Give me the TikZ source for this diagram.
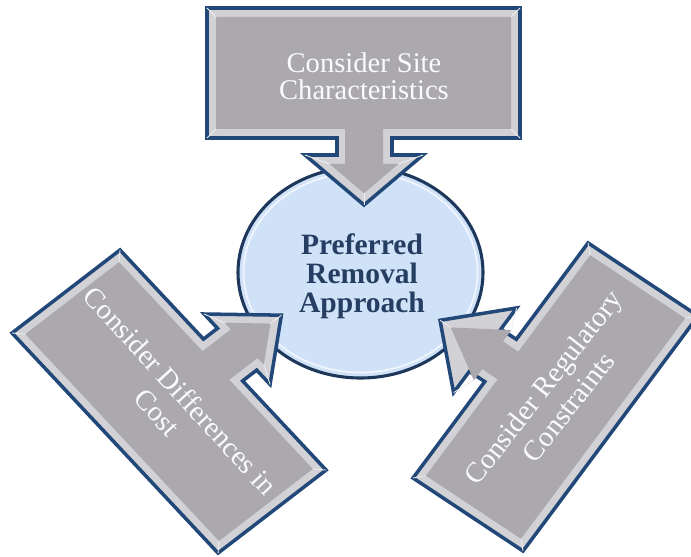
\documentclass[tikz,border=0pt]{standalone}
\usepackage{fontspec}
\setmainfont{Liberation Serif}
\definecolor{calloutnavy}{RGB}{33,72,120}
\definecolor{calloutgray}{RGB}{171,169,174}
\definecolor{calloutbevel}{RGB}{210,209,213}
\definecolor{hubblue}{RGB}{207,226,248}
\definecolor{hubnavy}{RGB}{30,56,92}
\definecolor{hubtext}{RGB}{38,62,98}
\tikzstyle{calloutline}=[draw=calloutnavy,line width=2.5pt,fill=calloutbevel]
\tikzstyle{calloutface}=[fill=calloutgray]
\tikzstyle{bevelline}=[draw=white!80!calloutgray,line width=0.6pt]
\tikzstyle{callouttext}=[text=white!95!calloutgray,align=center]

\begin{document}
\begin{tikzpicture}[x=0.025cm,y=-0.025cm]
  \useasboundingbox (0,0) rectangle (691,557);

  % centre ellipse
  \draw[fill=hubblue,draw=hubnavy,line width=2.2pt] (360.5,272.5) ellipse (122.5 and 105.5);
  \draw[draw=white!70!hubblue,line width=1.2pt] (360.5,272.5) ellipse (117 and 100);
  \node[text=hubtext,align=center,font=\bfseries\fontsize{21}{20.5}\selectfont] (approach) at (362,276) {Preferred\\Removal\\Approach};

  % top callout, pointing down
  \draw[calloutline] (207,8) -- (520,8) -- (520,138) -- (392,138) -- (392,155) -- (423,155)
    -- (364,205) -- (305,155) -- (337,155) -- (337,138) -- (207,138) -- cycle;
  \fill[calloutface] (216,17) -- (511,17) -- (511,129) -- (383,129) -- (383,164) -- (398.4,164)
    -- (364,193.2) -- (329.6,164) -- (345,164) -- (345,129) -- (216,129) -- cycle;
  \foreach \ax/\ay/\bx/\by in {207/8/216/17, 520/8/511/17, 520/138/511/129, 207/138/216/129,
                               423/155/398.4/164, 364/205/364/193.2, 305/155/329.6/164}
    \draw[bevelline] (\ax,\ay) -- (\bx,\by);
  \node[callouttext,font=\fontsize{20.3}{19.5}\selectfont] (site) at (364,76) {Consider Site\\Characteristics};

  % lower left callout
  \begin{scope}[shift={(12,333)},x={(5.15cm,-5.5cm)},y={(2.7cm,2.075cm)}]
    \draw[calloutline] (0,0) -- (1,0) -- (1,1) -- (0.595,1) -- (0.595,1.13) -- (0.66,1.13)
      -- (0.5,1.54) -- (0.34,1.13) -- (0.405,1.13) -- (0.405,1) -- (0,1) -- cycle;
    \fill[calloutface] (0.03,0.066) -- (0.97,0.066) -- (0.97,0.934) -- (0.565,0.934) -- (0.565,1.196)
      -- (0.595,1.196) -- (0.5,1.439) -- (0.405,1.196) -- (0.435,1.196) -- (0.435,0.934) -- (0.03,0.934) -- cycle;
    \foreach \ax/\ay/\bx/\by in {0/0/0.03/0.066, 1/0/0.97/0.066, 1/1/0.97/0.934, 0/1/0.03/0.934,
                                 0.66/1.13/0.595/1.196, 0.5/1.54/0.5/1.439, 0.34/1.13/0.405/1.196}
      \draw[bevelline] (\ax,\ay) -- (\bx,\by);
    \node[callouttext,rotate=-47.5,font=\fontsize{20.2}{22.4}\selectfont] (cost) at (0.5,0.5) {Consider Differences in\\Cost};
  \end{scope}

  % lower right callout
  \begin{scope}[shift={(413,478)},x={(4.375cm,5.875cm)},y={(2.75cm,-1.825cm)}]
    \draw[calloutline] (0,0) -- (0.41,0) -- (0.41,-0.14) -- (0.32,-0.14) -- (0.5,-0.55)
      -- (0.68,-0.14) -- (0.59,-0.14) -- (0.59,0) -- (1,0) -- (1,1) -- (0,1) -- cycle;
    \fill[calloutface] (0.031,0.068) -- (0.441,0.068) -- (0.441,-0.072) -- (0.393,-0.072) -- (0.5,-0.452)
      -- (0.607,-0.072) -- (0.559,-0.072) -- (0.559,0.068) -- (0.969,0.068) -- (0.969,0.932) -- (0.031,0.932) -- cycle;
    \foreach \ax/\ay/\bx/\by in {0/0/0.031/0.068, 1/0/0.969/0.068, 1/1/0.969/0.932, 0/1/0.031/0.932,
                                 0.32/-0.14/0.393/-0.072, 0.5/-0.55/0.5/-0.452, 0.68/-0.14/0.607/-0.072}
      \draw[bevelline] (\ax,\ay) -- (\bx,\by);
    \node[callouttext,rotate=52,font=\fontsize{20.3}{22.7}\selectfont] (regulatory) at (0.5,0.5) {Consider Regulatory\\Constraints};
  \end{scope}
\end{tikzpicture}
\end{document}
